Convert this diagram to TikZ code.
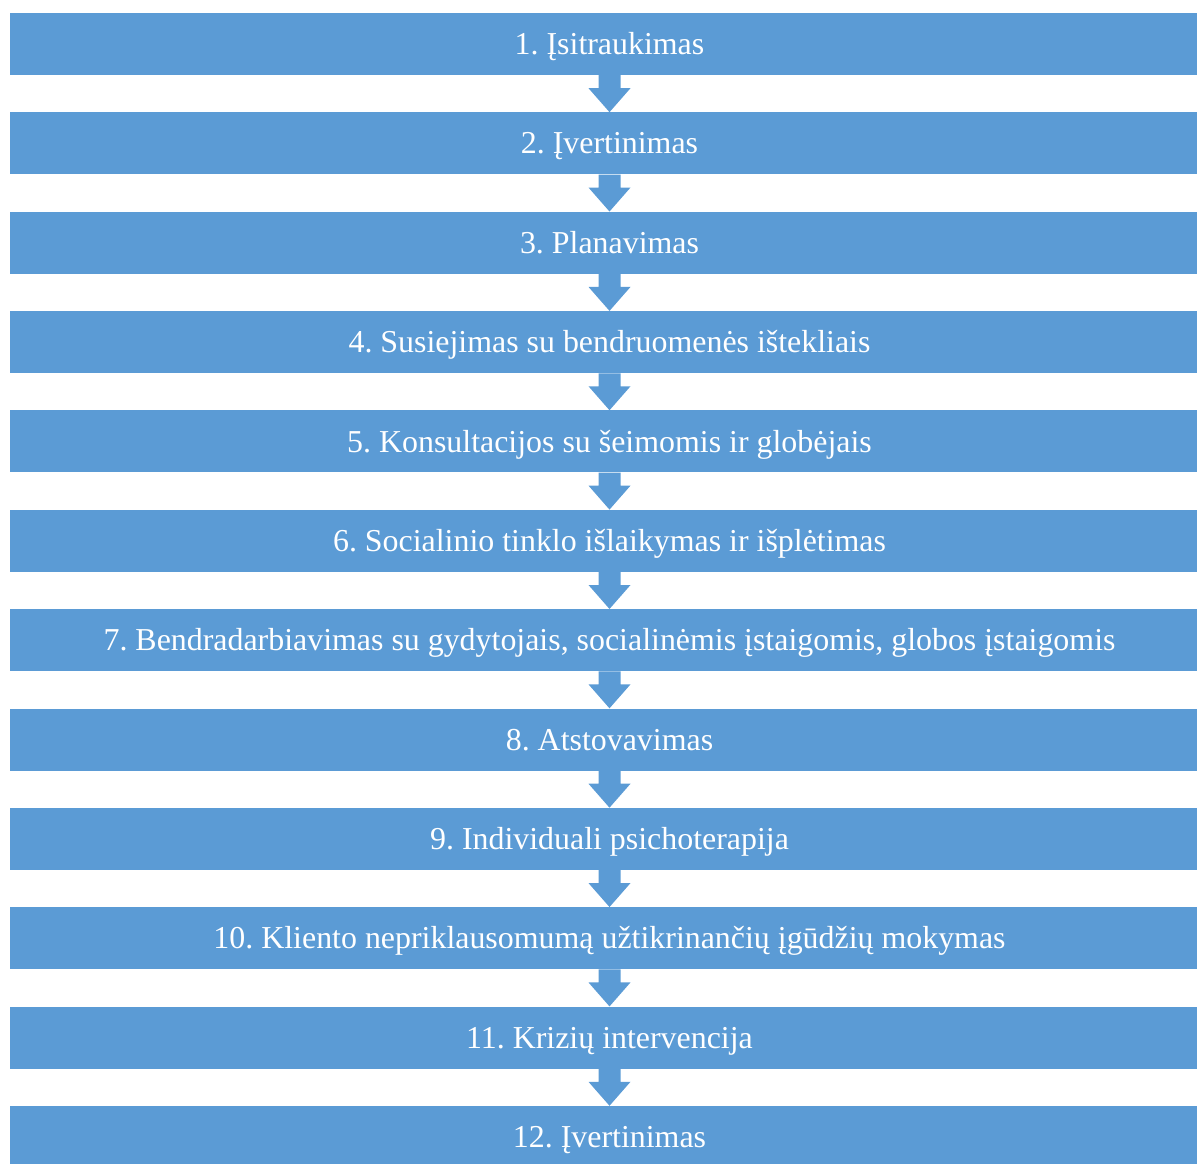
\documentclass[tikz,border=0pt]{standalone}
\usepackage{fontspec}
\setmainfont{Liberation Serif}
\usetikzlibrary{calc}
\usetikzlibrary{positioning}
\definecolor{barblue}{HTML}{5B9BD5}
\frenchspacing

\begin{document}
\begin{tikzpicture}[x=1pt,y=1pt,node distance=99.36pt,on grid,
		bar/.style={rectangle,fill=barblue,text=white,inner sep=0pt,
			minimum width=1199pt,minimum height=62pt,
			text height=21.2pt,text depth=0pt,
			font=\fontsize{31.9}{36}\selectfont},
		flow/.style={fill=barblue}]
		\useasboundingbox (0,0) rectangle (1197,-1163);
		\node[bar]  (b1)  at (609.5,-44)    {1. Įsitraukimas};
		\node[bar]  (b2)  [below=of b1]     {2. Įvertinimas};
		\node[bar]  (b3)  [below=of b2]     {3. Planavimas};
		\node[bar]  (b4)  [below=of b3]     {4. Susiejimas su bendruomenės ištekliais};
		\node[bar]  (b5)  [below=of b4]     {5. Konsultacijos su šeimomis ir globėjais};
		\node[bar]  (b6)  [below=of b5]     {6. Socialinio tinklo išlaikymas ir išplėtimas};
		\node[bar]  (b7)  [below=of b6]     {7. Bendradarbiavimas su gydytojais, socialinėmis įstaigomis, globos įstaigomis};
		\node[bar]  (b8)  [below=of b7]     {8. Atstovavimas};
		\node[bar]  (b9)  [below=of b8]     {9. Individuali psichoterapija};
		\node[bar]  (b10) [below=of b9]     {10. Kliento nepriklausomumą užtikrinančių įgūdžių mokymas};
		\node[bar]  (b11) [below=of b10]    {11. Krizių intervencija};
		\node[bar]  (b12) [below=of b11]    {12. Įvertinimas};
		
		% arrows between the steps
		\foreach \i [evaluate=\i as \j using int(\i+1)] in {1,...,11}
		\fill[flow] ($(b\i.south)+(-11,0)$) -- ++(0,-13) -- ++(-10,0)
			-- (b\j.north) -- ($(b\i.south)+(21,-13)$) -- ++(-10,0)
			-- ($(b\i.south)+(11,0)$) -- cycle;
\end{tikzpicture}
\end{document}
